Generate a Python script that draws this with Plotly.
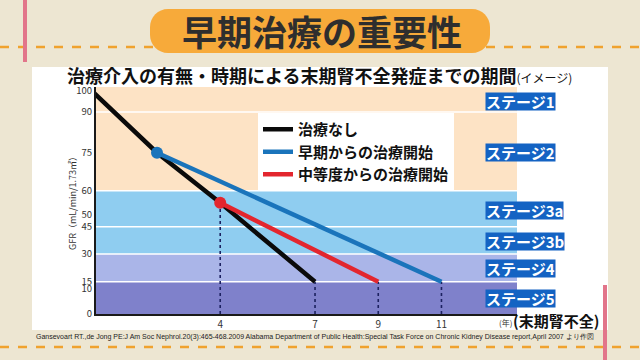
import numpy as np
import plotly.graph_objects as go

# ---------------- data ----------------
years_none = [0, 2, 4, 7]
gfr_none = [99, 75, 55, 15]
years_early = [2, 11]
gfr_early = [75, 15]
years_mid = [4, 9]
gfr_mid = [55, 15]

series_names = ["治療なし", "早期からの治療開始", "中等度からの治療開始"]
x_ticks = [4, 7, 9, 11]
y_tick_values = [0, 10, 15, 30, 45, 50, 60, 75, 90, 100]
stage_names = ["ステージ1", "ステージ2", "ステージ3a", "ステージ3b", "ステージ4", "ステージ5"]
stage_low = [90, 60, 45, 30, 15, 0]
stage_high = [100, 90, 60, 45, 30, 15]

# ---------------- style / layout ----------------
FONT_JP = "Noto Sans CJK JP"
C_BLACK, C_BLUE, C_RED = "#0a0a0a", "#1a74bb", "#e3262e"
band_colors = ["#fde3c5", "#fde3c5", "#8fcdf0", "#8fcdf0", "#aab5e8", "#7f81cb"]
STAGE_BG = "#1463c3"
PAGE_BG = "#ede6d2"

L, R, T, B = 96, 517, 87, 314
W, H = R - L, B - T


def px(x):
    return (x - L) / W


def py(y):
    return (B - y) / H


# non-uniform GFR scale of the original figure (tick value -> axis position)
scale_gfr = [0, 10, 15, 30, 45, 50, 60, 75, 90, 100]
scale_pos = [0, 25, 32.3, 60, 87.3, 99, 123.3, 161.3, 202, 223.3]
Y_MAX = 227


def ymap(v):
    return np.interp(np.asarray(v, dtype=float), scale_gfr, scale_pos)


fig = go.Figure()

# lines (legend entries)
fig.add_trace(go.Scatter(x=years_none, y=ymap(gfr_none), mode="lines", name=series_names[0],
                         line=dict(color=C_BLACK, width=4.5)))
fig.add_trace(go.Scatter(x=years_early, y=ymap(gfr_early), mode="lines", name=series_names[1],
                         line=dict(color=C_BLUE, width=4.5)))
fig.add_trace(go.Scatter(x=years_mid, y=ymap(gfr_mid), mode="lines", name=series_names[2],
                         line=dict(color=C_RED, width=4.5)))
# start markers
fig.add_trace(go.Scatter(x=[years_early[0]], y=ymap([gfr_early[0]]), mode="markers", showlegend=False,
                         marker=dict(color=C_BLUE, size=12)))
fig.add_trace(go.Scatter(x=[years_mid[0]], y=ymap([gfr_mid[0]]), mode="markers", showlegend=False,
                         marker=dict(color=C_RED, size=12)))

shapes = []
# page decorations
shapes.append(dict(type="rect", xref="paper", yref="paper", x0=px(32), x1=px(608), y0=py(330), y1=py(67),
                   fillcolor="white", line=dict(width=0), layer="below"))
for yy in (47, 347):
    shapes.append(dict(type="line", xref="paper", yref="paper", x0=px(0), x1=px(640), y0=py(yy), y1=py(yy),
                       line=dict(color="#f0a22e", width=2.5, dash="dash"), layer="below"))
shapes.append(dict(type="line", xref="paper", yref="paper", x0=px(25), x1=px(25), y0=py(0), y1=py(62),
                   line=dict(color="#e2758a", width=4), layer="below"))
shapes.append(dict(type="line", xref="paper", yref="paper", x0=px(605), x1=px(605), y0=py(285), y1=py(360),
                   line=dict(color="#e2758a", width=4), layer="below"))


# title pill (rounded rectangle)
def rounded_rect(x0, y0, x1, y1, r):
    k = 0.55 * r
    pts = [
        f"M {px(x0 + r)},{py(y0)}",
        f"L {px(x1 - r)},{py(y0)}",
        f"C {px(x1 - r + k)},{py(y0)} {px(x1)},{py(y0 + r - k)} {px(x1)},{py(y0 + r)}",
        f"L {px(x1)},{py(y1 - r)}",
        f"C {px(x1)},{py(y1 - r + k)} {px(x1 - r + k)},{py(y1)} {px(x1 - r)},{py(y1)}",
        f"L {px(x0 + r)},{py(y1)}",
        f"C {px(x0 + r - k)},{py(y1)} {px(x0)},{py(y1 - r + k)} {px(x0)},{py(y1 - r)}",
        f"L {px(x0)},{py(y0 + r)}",
        f"C {px(x0)},{py(y0 + r - k)} {px(x0 + r - k)},{py(y0)} {px(x0 + r)},{py(y0)}",
        "Z",
    ]
    return " ".join(pts)


shapes.append(dict(type="path", xref="paper", yref="paper", path=rounded_rect(150, 9, 490, 53, 18),
                   fillcolor="#f7aa3a", line=dict(width=0), layer="below"))

# stage bands
for lo, hi, col in zip(stage_low, stage_high, band_colors):
    y1 = Y_MAX if hi == max(stage_high) else float(ymap(hi))
    shapes.append(dict(type="rect", xref="x domain", yref="y", x0=0, x1=1, y0=float(ymap(lo)), y1=y1,
                       fillcolor=col, line=dict(width=0), layer="below"))
for v in [90, 60, 45, 30, 15]:
    yy = float(ymap(v))
    shapes.append(dict(type="line", xref="x domain", yref="y", x0=0, x1=1, y0=yy, y1=yy,
                       line=dict(color="white", width=1.5), layer="below"))

# dotted drop lines
drop_x = [years_mid[0], years_none[-1], years_mid[-1], years_early[-1]]
drop_y = [gfr_mid[0], gfr_none[-1], gfr_mid[-1], gfr_early[-1]]
for xv, yv in zip(drop_x, drop_y):
    shapes.append(dict(type="line", xref="x", yref="y", x0=xv, x1=xv, y0=0, y1=float(ymap(yv)),
                       line=dict(color="#1c2160", width=1.6, dash="dot"), layer="below"))


def ann(text, x, y, size, color="#111", family=FONT_JP, **kw):
    d = dict(text=text, xref="paper", yref="paper", x=px(x), y=py(y), showarrow=False,
             xanchor="center", yanchor="middle", font=dict(family=family, size=size, color=color))
    d.update(kw)
    return d


annotations = [
    ann("<b>早期治療の重要性</b>", 322, 30, 35, "#2e2e2e"),
    ann("<b>治療介入の有無・時期による末期腎不全発症までの期間</b><span style='font-size:12px'>(イメージ)</span>",
        319, 75, 18),
    ann("GFR（mL/min/1.73㎡）", 72, 201, 9, "#333", textangle=-90),
    ann("(年)", 505, 322, 8, "#333"),
    ann("<b>(末期腎不全)</b>", 556, 320, 15),
]
footer_text = ("Gansevoart RT.,de Jong PE:J Am Soc Nephrol.20(3):465-468.2009 Alabama Department of Public "
               "Health:Special Task Force on Chronic Kidney Disease report,April 2007 より作図")
annotations.append(ann(footer_text, 315, 337, 7, "#222",
                       family="Liberation Sans Narrow, Arial Narrow, Liberation Sans, sans-serif"))

stage_label_y = [101, 152, 210, 241, 268, 298]
for name, yl in zip(stage_names, stage_label_y):
    annotations.append(ann(f"<b>{name}</b>", 485, yl, 15, "white", xanchor="left",
                           bgcolor=STAGE_BG, borderpad=0, height=17, valign="middle"))

fig.update_layout(
    width=640, height=360,
    margin=dict(l=L, r=640 - R, t=T, b=360 - B),
    paper_bgcolor=PAGE_BG, plot_bgcolor="rgba(0,0,0,0)",
    shapes=shapes, annotations=annotations,
    showlegend=True,
    legend=dict(x=px(258), y=py(113), xanchor="left", yanchor="top", bgcolor="white",
                font=dict(family=FONT_JP, size=15, color="#111", weight=700),
                itemwidth=30, tracegroupgap=0),
    xaxis=dict(range=[0.07, 13.39], tickmode="array", tickvals=x_ticks, ticktext=[str(v) for v in x_ticks],
               showgrid=False, zeroline=False, showline=True, linecolor="#1a1a1a", linewidth=2,
               ticks="", tickfont=dict(family=FONT_JP, size=10, color="#333")),
    yaxis=dict(range=[0, Y_MAX], tickmode="array", tickvals=list(ymap(y_tick_values)),
               ticktext=[str(v) for v in y_tick_values],
               showgrid=False, zeroline=False, showline=True, linecolor="#1a1a1a", linewidth=2,
               ticks="", tickfont=dict(family=FONT_JP, size=9.5, color="#333")),
)

fig.write_html("out.html", config={"displayModeBar": False},
               post_script="document.body.style.margin='0';document.body.style.overflow='hidden';")
